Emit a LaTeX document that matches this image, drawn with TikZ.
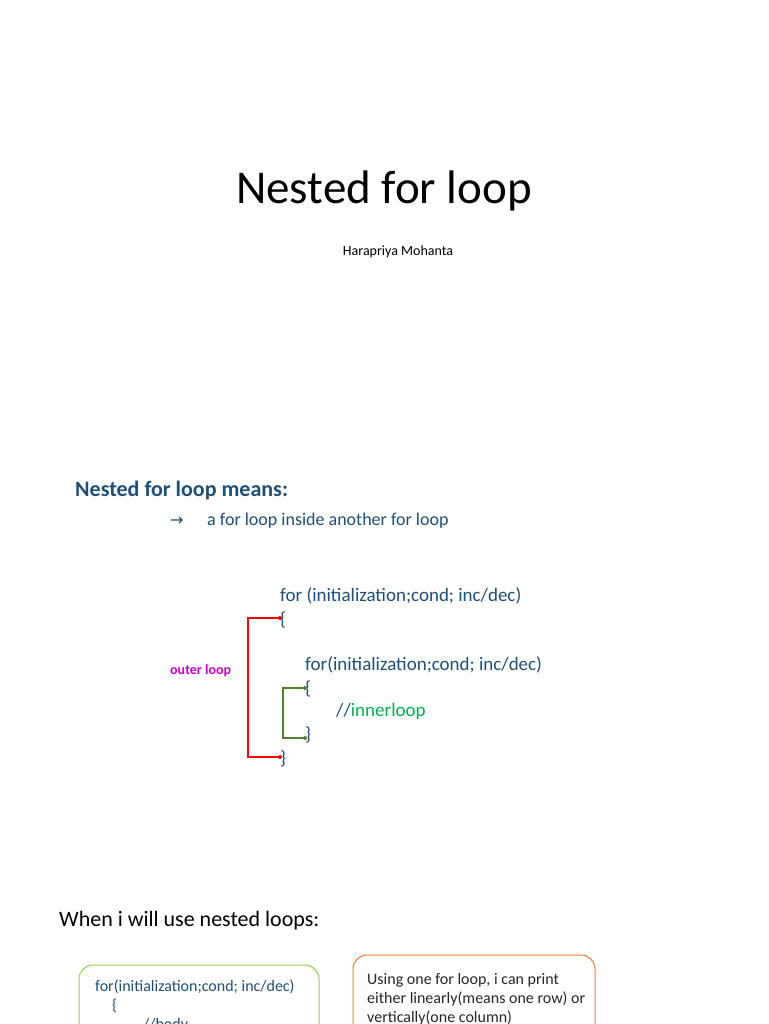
\documentclass[tikz,border=0pt]{standalone}
\usepackage{fontspec}
\setmainfont{Carlito}
\begin{document}
\begin{tikzpicture}[x=1pt,y=-1pt,
  txt/.style={anchor=west,inner sep=0pt,font=\fontsize{19}{19}\selectfont,text=cblue},
  dot/.style={circle,fill,inner sep=0pt,minimum size=4pt}]
\definecolor{cblue}{RGB}{31,78,121}
\definecolor{cgreen}{RGB}{0,176,80}
\definecolor{cmag}{RGB}{204,0,204}
\definecolor{dgreen}{RGB}{84,130,53}
\definecolor{corange}{RGB}{237,125,49}
\definecolor{lgreen}{RGB}{146,208,80}
\useasboundingbox (0,0) rectangle (768,1024);
\clip (0,0) rectangle (768,1024);
\node[inner sep=0pt,font=\fontsize{47}{47}\selectfont] (title) at (384,191) {Nested for loop};
\node[inner sep=0pt,font=\fontsize{14}{14}\selectfont] (author) at (398,252) {Harapriya Mohanta};
\node[txt,font=\bfseries\fontsize{22}{22}\selectfont] (head) at (75,491) {Nested for loop means:};
\node[txt] (arr) at (170,521) {\fontspec{DejaVu Sans}\fontsize{16}{16}\selectfont→};
\node[txt,font=\fontsize{18}{18}\selectfont] (mean) at (207,521) {a for loop inside another for loop};
\node[txt] (for1) at (280,596) {for (initialization;cond; inc/dec)};
\node[txt] (ob1) at (280,620) {\{};
\node[txt] (for2) at (305,665) {for(initialization;cond; inc/dec)};
\node[txt] (ob2) at (305,689) {\{};
\node[txt] (inner) at (336,711) {//\textcolor{cgreen}{innerloop}};
\node[txt] (cb2) at (305,735) {\}};
\node[txt] (cb1) at (280,759) {\}};
\node[txt,font=\bfseries\fontsize{14}{14}\selectfont,text=cmag] (outer) at (170,671) {outer loop};
\coordinate (r1) at (280,618); \coordinate (r2) at (280,757);
\draw[red,line width=1.5pt] (r1) -- (248,618) -- (248,757) -- (r2);
\node[dot,red] at (r1) {}; \node[dot,red] at (r2) {};
\coordinate (g1) at (305,688); \coordinate (g2) at (305,738);
\draw[dgreen,line width=1.5pt] (g1) -- (283,688) -- (283,738) -- (g2);
\node[dot,dgreen] at (g1) {}; \node[dot,dgreen] at (g2) {};
\node[txt,text=black,font=\fontsize{22}{22}\selectfont] (when) at (59,921) {When i will use nested loops:};
\draw[lgreen,line width=1pt,rounded corners=14pt] (79,965) rectangle (319,1080);
\draw[corange,line width=1pt,rounded corners=14pt] (353,955) rectangle (595,1080);
\node[txt,font=\fontsize{16}{16}\selectfont] (b1) at (95,987) {for(initialization;cond; inc/dec)};
\node[txt,font=\fontsize{16}{16}\selectfont] (b2) at (112,1006) {\{};
\node[txt,font=\fontsize{16}{16}\selectfont] (b3) at (143,1025) {//body};
\node[txt,text=black!85,font=\fontsize{16}{16}\selectfont] (c1) at (367,980) {Using one for loop, i can print};
\node[txt,text=black!85,font=\fontsize{16}{16}\selectfont] (c2) at (367,999) {either linearly(means one row) or};
\node[txt,text=black!85,font=\fontsize{16}{16}\selectfont] (c3) at (367,1018) {vertically(one column)};
\end{tikzpicture}
\end{document}
